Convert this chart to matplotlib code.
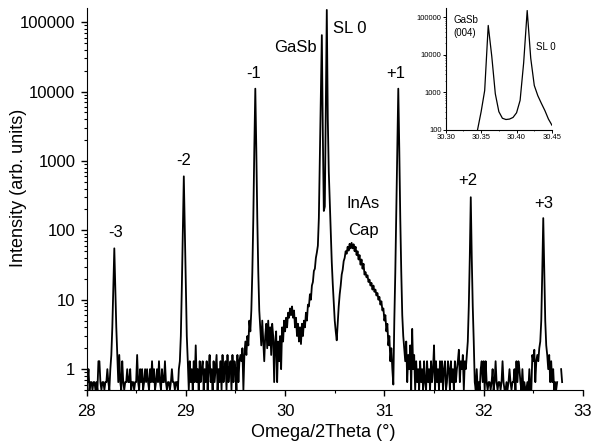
import numpy as np
import matplotlib.pyplot as plt
from matplotlib.ticker import LogLocator, NullFormatter, MultipleLocator

plt.rcParams['font.family'] = ['Liberation Sans', 'DejaVu Sans']

# main omega/2theta scan, 0.01 deg steps from 28.00
scan_start = 28.0
scan_step = 0.01
intensity = [
    0.65, 0.65, 1.0, 0.5, 0.65, 0.65, 0.5, 0.65, 0.65, 0.5, 0.65, 0.5, 1.3, 1.3, 0.65, 0.5, 0.65, 0.65, 0.5, 0.65,  # 28.00
    0.65, 1.0, 0.65, 0.5, 1.0, 1.6, 4, 15, 55, 15, 4, 1.6, 0.65, 1.6, 0.65, 0.5, 1.3, 0.65, 0.5, 0.65,  # 28.20
    0.65, 1.0, 0.65, 0.65, 1.0, 0.5, 0.65, 0.65, 0.5, 0.65, 0.65, 1.6, 0.65, 0.5, 1.0, 0.65, 1.0, 0.5, 0.65, 1.0,  # 28.40
    0.65, 1.0, 0.65, 0.5, 1.0, 0.65, 1.3, 0.65, 1.0, 0.5, 0.65, 1.0, 0.65, 1.3, 0.65, 0.5, 1.0, 0.65, 0.65, 1.3,  # 28.60
    0.65, 0.5, 0.65, 0.65, 0.5, 0.65, 1.0, 0.65, 0.65, 0.5, 0.65, 0.65, 0.5, 1.0, 1.3, 3, 15, 100, 600, 100,  # 28.80
    15, 3, 1.3, 0.5, 1.3, 0.65, 1.0, 0.5, 1.3, 0.65, 2.2, 0.65, 1.0, 0.5, 1.3, 0.65, 1.0, 1.3, 0.5, 1.0,  # 29.00
    0.65, 1.3, 0.5, 1.0, 1.6, 0.65, 1.0, 0.5, 1.3, 0.65, 1.0, 1.6, 0.5, 1.0, 0.65, 1.3, 0.5, 1.6, 0.65, 1.0,  # 29.20
    1.3, 0.5, 1.6, 0.65, 1.0, 1.3, 0.5, 1.6, 0.65, 1.3, 1.0, 0.5, 1.6, 0.65, 1.3, 1.6, 1.3, 2.0, 0.5, 1.6,  # 29.40
    2.5, 1.6, 3, 2.2, 5, 3.5, 7, 25, 150, 1500, 11000, 1500, 150, 25, 7, 4, 2.2, 5, 2.5, 1.3,  # 29.60
    3, 4.5, 2, 5, 2.2, 4, 1.6, 4.5, 3, 0.65, 2.5, 3.5, 0.65, 2.5, 1.3, 3, 1.0, 4, 2.5, 5,  # 29.80
    3.5, 5.5, 4, 6.5, 5.5, 7.5, 6, 8, 5.5, 7, 4, 5.5, 3, 4.5, 2.5, 4, 2.3, 4.5, 3, 5,  # 30.00
    4, 6.5, 5, 8.5, 8, 12, 10, 16, 18, 26, 28, 40, 48, 60, 150, 1200, 10000, 65000, 2500, 190,  # 30.20
    220, 5000, 150000, 4000, 700, 250, 90, 35, 17, 9, 5, 3.5, 2.6, 4.5, 8, 12, 16, 23, 27, 36,  # 30.40
    40, 50, 46, 58, 51, 64, 55, 66, 55, 63, 50, 58, 44, 50, 38, 44, 32, 38, 28, 33,  # 30.60
    23, 25, 21, 22.5, 18, 19.5, 16, 17.5, 14, 16, 13, 14, 11.5, 12.5, 10, 11, 8.5, 9.5, 7, 7.5,  # 30.80
    5, 6, 3.5, 4.5, 2.2, 3, 1.3, 2, 1.0, 0.6, 5, 25, 200, 1800, 11000, 1500, 150, 25, 6, 3,  # 31.00
    2, 1.3, 2.5, 0.65, 1.6, 1.0, 2.2, 0.5, 3.8, 1.0, 1.6, 0.5, 1.3, 0.65, 1.0, 0.5, 1.3, 0.65, 1.0, 0.5,  # 31.20
    1.3, 0.65, 0.5, 1.3, 0.65, 1.0, 0.5, 1.3, 0.65, 1.0, 2.2, 0.5, 1.3, 0.65, 1.0, 0.5, 1.3, 0.65, 1.3, 0.5,  # 31.40
    1.0, 1.3, 0.5, 0.65, 1.3, 1.0, 0.5, 1.3, 0.65, 1.0, 0.5, 1.3, 0.65, 1.0, 1.3, 1.9, 0.65, 1.3, 1.0, 1.6,  # 31.60
    0.5, 1.3, 1.0, 1.6, 2.5, 8, 40, 300, 40, 8, 2.5, 0.65, 0.5, 1.0, 0.5, 0.65, 0.5, 1.0, 1.3, 0.65,  # 31.80
    1.3, 0.5, 1.3, 0.65, 0.5, 0.65, 0.65, 0.5, 0.65, 1.0, 0.5, 0.65, 1.3, 0.65, 0.5, 0.65, 0.65, 0.5, 0.65, 1.3,  # 32.00
    0.65, 0.5, 0.5, 0.65, 0.5, 0.65, 1.0, 0.65, 0.5, 0.65, 0.65, 1.0, 0.5, 1.3, 0.65, 1.3, 1.0, 0.65, 0.5, 1.0,  # 32.20
    0.5, 0.65, 0.5, 0.5, 0.65, 0.5, 1.0, 0.5, 0.5, 1.6, 1.3, 1.9, 0.65, 1.3, 1.6, 1.3, 2.0, 2.5, 5, 25,  # 32.40
    150, 25, 5, 2.2, 1.6, 1.0, 1.6, 0.65, 1.3, 0.65, 1.0, 0.5, 0.65, 0.5, 0.65, np.nan, 0.65, np.nan, 1.0, 0.65,  # 32.60
]

# inset: zoom on GaSb (004) and SL 0
inset_x = [30.345, 30.350, 30.355, 30.360, 30.365, 30.370, 30.375, 30.380, 30.385, 30.390, 30.395,
           30.400, 30.405, 30.410, 30.415, 30.420, 30.425, 30.430, 30.435, 30.440, 30.445, 30.450]
inset_y = [100, 300, 1100, 60000, 9000, 900, 300, 200, 185, 190, 210,
           280, 600, 6000, 150000, 8000, 1500, 800, 500, 320, 190, 130]

# peak labels (text, x, y)
peak_labels = [("-3", 28.29, 94), ("-2", 28.98, 1000), ("-1", 29.68, 18000),
               ("GaSb", 30.10, 43000), ("SL 0", 30.65, 80000), ("+1", 31.11, 18000),
               ("+2", 31.84, 520), ("+3", 32.60, 245),
               ("InAs", 30.79, 240), ("Cap", 30.79, 100)]

x = scan_start + scan_step * np.arange(len(intensity))
y = np.array(intensity, dtype=float)

fig = plt.figure(figsize=(5.97, 4.41), dpi=100)
ax = fig.add_axes([0.1449, 0.1156, 0.8316, 0.8663])
ax.plot(x, y, color='black', lw=1.3)
ax.set_yscale('log')
ax.set_xlim(28, 33)
ax.set_ylim(0.5, 1.6e5)

yt = [1, 10, 100, 1000, 10000, 100000]
ax.set_yticks(yt, [str(v) for v in yt])
ax.yaxis.set_minor_locator(LogLocator(base=10, subs=np.arange(2, 10)))
ax.yaxis.set_minor_formatter(NullFormatter())
ax.set_xticks([28, 29, 30, 31, 32, 33])
ax.xaxis.set_minor_locator(MultipleLocator(0.5))

for s in ['top', 'right']:
    ax.spines[s].set_visible(False)
ax.tick_params(which='major', direction='out', length=4, width=1, labelsize=12, pad=4)
ax.tick_params(which='minor', direction='out', length=2.5, width=0.8)
ax.tick_params(axis='x', which='major', pad=6)

ax.set_xlabel("Omega/2Theta (°)", fontsize=13)
ax.set_ylabel("Intensity (arb. units)", fontsize=13)
ax.xaxis.set_label_coords(0.477, -0.088)
ax.yaxis.set_label_coords(-0.12, 0.53)

for txt, tx, ty in peak_labels:
    ax.text(tx, ty, txt, fontsize=12, ha='center', va='center')

ins = fig.add_axes([0.7466, 0.7063, 0.178, 0.2755])
ins.plot(inset_x, inset_y, color='black', lw=0.9)
ins.set_yscale('log')
ins.set_xlim(30.30, 30.45)
ins.set_ylim(100, 1.75e5)
ins.set_xticks([30.30, 30.35, 30.40, 30.45], ["30.30", "30.35", "30.40", "30.45"])
ins.xaxis.set_minor_locator(MultipleLocator(0.025))
it = [100, 1000, 10000, 100000]
ins.set_yticks(it, [str(v) for v in it])
ins.yaxis.set_minor_locator(LogLocator(base=10, subs=np.arange(2, 10)))
ins.yaxis.set_minor_formatter(NullFormatter())
for s in ['top', 'right']:
    ins.spines[s].set_visible(False)
ins.patch.set_alpha(0)
ins.tick_params(which='major', direction='out', length=2, width=0.7, labelsize=5.5, pad=1)
ins.tick_params(which='minor', direction='out', length=1, width=0.5)
ins.text(30.3107, 83000, "GaSb", fontsize=7, ha='left', va='center')
ins.text(30.3107, 37000, "(004)", fontsize=7, ha='left', va='center')
ins.text(30.4274, 16000, "SL 0", fontsize=7, ha='left', va='center')

fig.savefig("out.png", dpi=100)
